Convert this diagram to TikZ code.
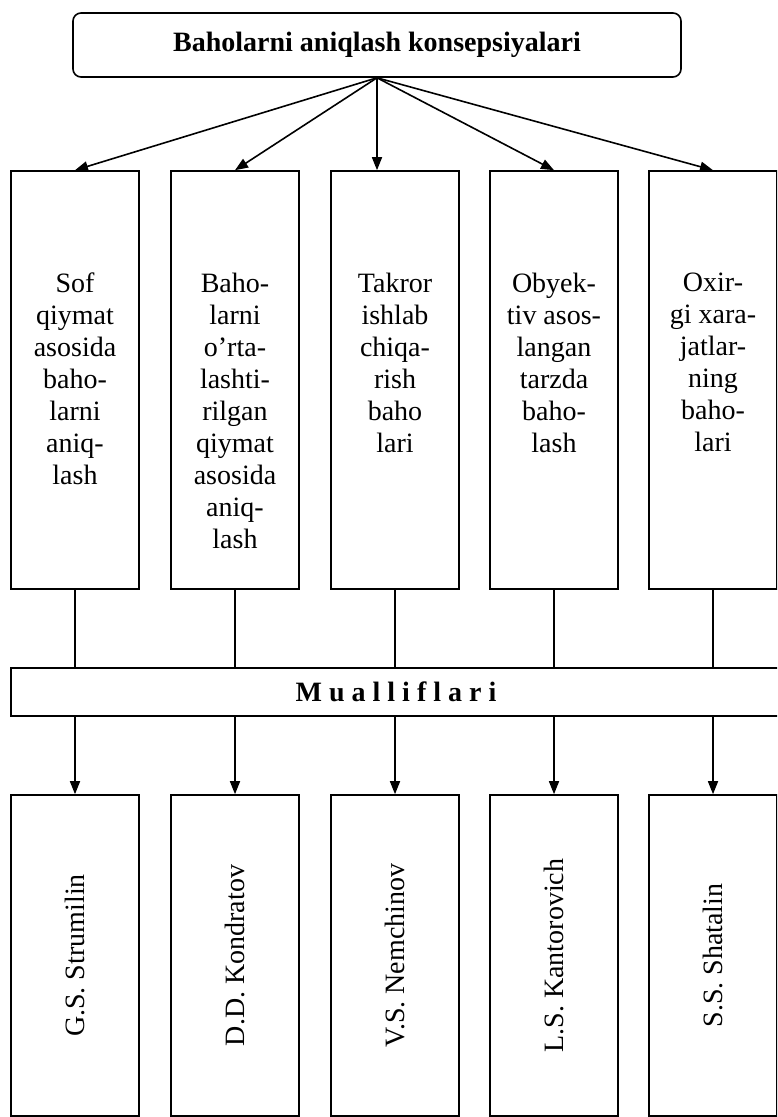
\documentclass[tikz,border=0pt]{standalone}
\usepackage{fontspec}
\setmainfont{Liberation Serif}
\usetikzlibrary{arrows.meta,positioning}

\begin{document}
\begin{tikzpicture}[
  x=0.5pt,y=-0.5pt,
  font=\fontsize{14}{16}\selectfont,
  line width=0.8pt,
  title/.style={draw,rounded corners=4pt,font=\fontsize{14}{16}\selectfont\bfseries,
                minimum width=304pt,minimum height=32pt},
  concept/.style={draw,minimum width=64pt,minimum height=209pt},
  ctext/.style={align=center,inner sep=0pt},
  authors/.style={draw,minimum width=385pt,minimum height=24pt,
                  font=\fontsize{14}{16}\selectfont\bfseries\addfontfeatures{LetterSpace=25}},
  person/.style={draw,rotate=90,minimum width=160.5pt,minimum height=64pt},
  arrow/.style={-{Triangle[length=6.5pt,width=5pt]}}
]
\clip (0,0) rectangle (777,1117);

\node[title] (top) at (377,45) {Baholarni aniqlash konsepsiyalari};

% concepts
\node[concept] (c1) at (75,380) {};
\node[concept] (c2) at (235,380) {};
\node[concept] (c3) at (395,380) {};
\node[concept] (c4) at (554,380) {};
\node[concept] (c5) at (713,380) {};
\node[ctext,below=51pt of c1.north] (t1)
 {Sof\\qiymat\\asosida\\baho-\\larni\\aniq-\\lash};
\node[ctext,below=51pt of c2.north] (t2)
 {Baho-\\larni\\o’rta-\\lashti-\\rilgan\\qiymat\\asosida\\aniq-\\lash};
\node[ctext,below=51pt of c3.north] (t3)
 {Takror\\ishlab\\chiqa-\\rish\\baho\\lari};
\node[ctext,below=51pt of c4.north] (t4)
 {Obyek-\\tiv asos-\\langan\\tarzda\\baho-\\lash};
\node[ctext,below=51pt of c5.north] (t5)
 {Oxir-\\gi xara-\\jatlar-\\ning\\baho-\\lari};

\draw[arrow] (top.south) -- (c1.north);
\draw[arrow] (top.south) -- (c2.north);
\draw[arrow] (top.south) -- (top.south |- c3.north);
\draw[arrow] (top.south) -- (c4.north);
\draw[arrow] (top.south) -- (c5.north);

% authors
\node[authors] (m) at (396,692) {Mualliflari};
\draw (c1.south) -- (c1.south |- m.north);
\draw (c2.south) -- (c2.south |- m.north);
\draw (c3.south) -- (c3.south |- m.north);
\draw (c4.south) -- (c4.south |- m.north);
\draw (c5.south) -- (c5.south |- m.north);

\node[person] (p1) at (75,955.5) {G.S. Strumilin};
\node[person] (p2) at (235,955.5) {D.D. Kondratov};
\node[person] (p3) at (395,955.5) {V.S. Nemchinov};
\node[person] (p4) at (554,955.5) {L.S. Kantorovich};
\node[person] (p5) at (713,955.5) {S.S. Shatalin};
\draw[arrow] (c1.south |- m.south) -- (p1.east);
\draw[arrow] (c2.south |- m.south) -- (p2.east);
\draw[arrow] (c3.south |- m.south) -- (p3.east);
\draw[arrow] (c4.south |- m.south) -- (p4.east);
\draw[arrow] (c5.south |- m.south) -- (p5.east);
\end{tikzpicture}
\end{document}
